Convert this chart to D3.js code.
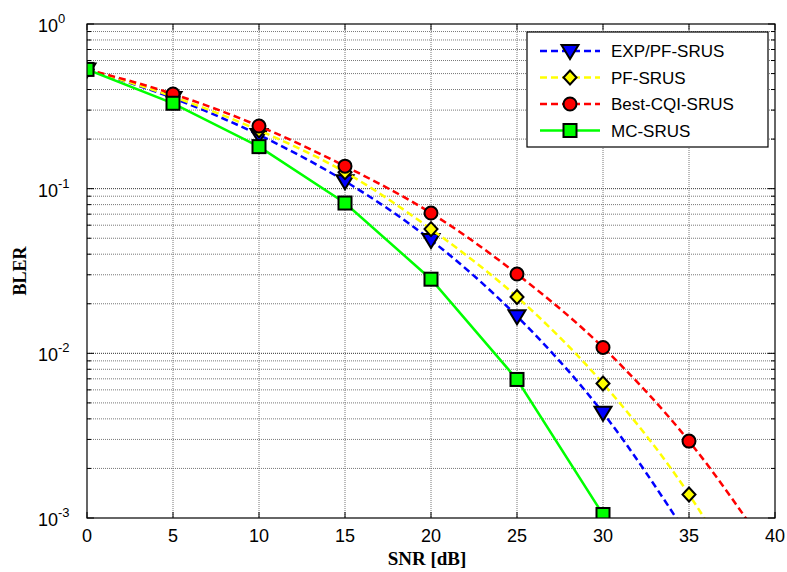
<!DOCTYPE html>
<html>
<head>
<meta charset="utf-8">
<script src="https://cdn.jsdelivr.net/npm/d3@7"></script>
<style>
  html, body { margin: 0; padding: 0; background: #fff; }
  svg { display: block; }
</style>
</head>
<body>
<svg id="chart" width="787" height="572"></svg>
<script>
// SNR sample points (dB)
const snr = [0, 5, 10, 15, 20, 25, 30, 35, 40];

// BLER per scheduler
const expPfSrus   = [0.53, 0.355, 0.212, 0.111, 0.0487, 0.0168, 0.00435, 0.00076];
const pfSrus      = [0.53, 0.362, 0.226, 0.126, 0.0568, 0.0220, 0.00656, 0.00139, 0.00018];
const bestCqiSrus = [0.53, 0.376, 0.240, 0.137, 0.0711, 0.0303, 0.01086, 0.00293, 0.00055];
const mcSrus      = [0.53, 0.330, 0.180, 0.0818, 0.0282, 0.00694, 0.00105];

const seriesNames = ["EXP/PF-SRUS", "PF-SRUS", "Best-CQI-SRUS", "MC-SRUS"];
const xTicks = [0, 5, 10, 15, 20, 25, 30, 35, 40];
const yDecades = [0, -1, -2, -3];

const series = [
  { name: seriesNames[0], values: expPfSrus,   color: "#0000ff", dash: "7,4", marker: "triangle", curve: d3.curveMonotoneX },
  { name: seriesNames[1], values: pfSrus,      color: "#ffff00", dash: "7,4", marker: "diamond",  curve: d3.curveMonotoneX },
  { name: seriesNames[2], values: bestCqiSrus, color: "#ff0000", dash: "7,4", marker: "circle",   curve: d3.curveMonotoneX },
  { name: seriesNames[3], values: mcSrus,      color: "#00ff00", dash: null,  marker: "square",   curve: d3.curveLinear }
];

const svg = d3.select("#chart");
const L = 87, R = 775, T = 24, B = 518;

const x = d3.scaleLinear().domain([0, 40]).range([L, R]);
const y = d3.scaleLog().domain([1e-3, 1]).range([B, T]);

svg.append("defs").append("clipPath").attr("id", "plotClip")
  .append("rect").attr("x", L).attr("y", T).attr("width", R - L).attr("height", B - T);

// grid
const grid = svg.append("g");
const minorVals = [];
for (let d = -3; d < 0; d++) {
  for (let k = 2; k <= 9; k++) minorVals.push(k * Math.pow(10, d));
}
grid.selectAll("line.minor").data(minorVals).enter().append("line")
  .attr("x1", L).attr("x2", R)
  .attr("y1", d => y(d)).attr("y2", d => y(d))
  .attr("stroke", "#777").attr("stroke-width", 1).attr("stroke-dasharray", "1,1");
grid.selectAll("line.major").data(yDecades.slice(1, 3)).enter().append("line")
  .attr("x1", L).attr("x2", R)
  .attr("y1", d => y(Math.pow(10, d))).attr("y2", d => y(Math.pow(10, d)))
  .attr("stroke", "#333").attr("stroke-width", 1).attr("stroke-dasharray", "1,1");
grid.selectAll("line.vx").data(xTicks.slice(1, -1)).enter().append("line")
  .attr("x1", d => x(d)).attr("x2", d => x(d))
  .attr("y1", T).attr("y2", B)
  .attr("stroke", "#777").attr("stroke-width", 1).attr("stroke-dasharray", "1,1");

// tick marks (inside, mirrored on all four sides)
const ticks = svg.append("g").attr("stroke", "#000").attr("stroke-width", 1);
xTicks.forEach(t => {
  ticks.append("line").attr("x1", x(t)).attr("x2", x(t)).attr("y1", B).attr("y2", B - 6);
  ticks.append("line").attr("x1", x(t)).attr("x2", x(t)).attr("y1", T).attr("y2", T + 6);
});
minorVals.forEach(v => {
  ticks.append("line").attr("x1", L).attr("x2", L + 4).attr("y1", y(v)).attr("y2", y(v));
  ticks.append("line").attr("x1", R).attr("x2", R - 4).attr("y1", y(v)).attr("y2", y(v));
});
yDecades.forEach(d => {
  const v = Math.pow(10, d);
  ticks.append("line").attr("x1", L).attr("x2", L + 7).attr("y1", y(v)).attr("y2", y(v));
  ticks.append("line").attr("x1", R).attr("x2", R - 7).attr("y1", y(v)).attr("y2", y(v));
});

// axis labels
const lab = svg.append("g").attr("font-family", "Liberation Sans, Arial, sans-serif").attr("fill", "#000");
xTicks.forEach(t => {
  lab.append("text").attr("x", x(t)).attr("y", B + 24).attr("text-anchor", "middle")
    .attr("font-size", 18).text(t);
});
yDecades.forEach(d => {
  const t = lab.append("text").attr("x", 38).attr("y", y(Math.pow(10, d)) + 8).attr("font-size", 18);
  t.append("tspan").text("10");
  t.append("tspan").attr("dy", -9).attr("font-size", 13).text(d);
});

svg.append("text").attr("x", x(20) - 4).attr("y", 565).attr("text-anchor", "middle")
  .attr("font-family", "Liberation Serif, Times New Roman, serif").attr("font-weight", "bold")
  .attr("font-size", 19).text("SNR [dB]");
svg.append("text").attr("transform", `translate(26,${(T + B) / 2}) rotate(-90)`)
  .attr("text-anchor", "middle")
  .attr("font-family", "Liberation Serif, Times New Roman, serif").attr("font-weight", "bold")
  .attr("font-size", 18).text("BLER");

// markers
function drawMarker(g, type, cx, cy, fill) {
  let el;
  if (type === "triangle") {
    el = g.append("path").attr("d", `M${cx - 8.5},${cy - 6} L${cx + 8.5},${cy - 6} L${cx},${cy + 8} Z`);
  } else if (type === "diamond") {
    el = g.append("path").attr("d", `M${cx},${cy - 7} L${cx + 6.5},${cy} L${cx},${cy + 7} L${cx - 6.5},${cy} Z`);
  } else if (type === "circle") {
    el = g.append("circle").attr("cx", cx).attr("cy", cy).attr("r", 6.5);
  } else {
    el = g.append("rect").attr("x", cx - 6.5).attr("y", cy - 6.5).attr("width", 13).attr("height", 13);
  }
  el.attr("fill", fill).attr("stroke", "#000").attr("stroke-width", 2);
}

const plot = svg.append("g").attr("clip-path", "url(#plotClip)");

series.forEach(s => {
  const pts = s.values.map((v, i) => [snr[i], v]);
  const lineGen = d3.line().x(d => x(d[0])).y(d => y(d[1])).curve(s.curve);
  const g = plot.append("g");
  g.append("path").datum(pts).attr("d", lineGen)
    .attr("fill", "none").attr("stroke", s.color).attr("stroke-width", 2.5)
    .attr("stroke-dasharray", s.dash);
  pts.filter(p => p[1] >= 1e-3).forEach(p => drawMarker(g, s.marker, x(p[0]), y(p[1]), s.color));
});

// axes box
svg.append("rect").attr("x", L).attr("y", T).attr("width", R - L).attr("height", B - T)
  .attr("fill", "none").attr("stroke", "#000").attr("stroke-width", 1.2);

// legend
const lg = svg.append("g");
lg.append("rect").attr("x", 527).attr("y", 32).attr("width", 241).attr("height", 115)
  .attr("fill", "#fff").attr("stroke", "#000").attr("stroke-width", 1.2);
series.forEach((s, i) => {
  const cy = 51 + i * 26.5;
  lg.append("line").attr("x1", 540).attr("x2", 600).attr("y1", cy).attr("y2", cy)
    .attr("stroke", s.color).attr("stroke-width", 2.5).attr("stroke-dasharray", s.dash);
  drawMarker(lg, s.marker, 570, cy, s.color);
  lg.append("text").attr("x", 611).attr("y", cy + 6)
    .attr("font-family", "Liberation Sans, Arial, sans-serif").attr("font-size", 17)
    .text(s.name);
});
</script>
</body>
</html>
